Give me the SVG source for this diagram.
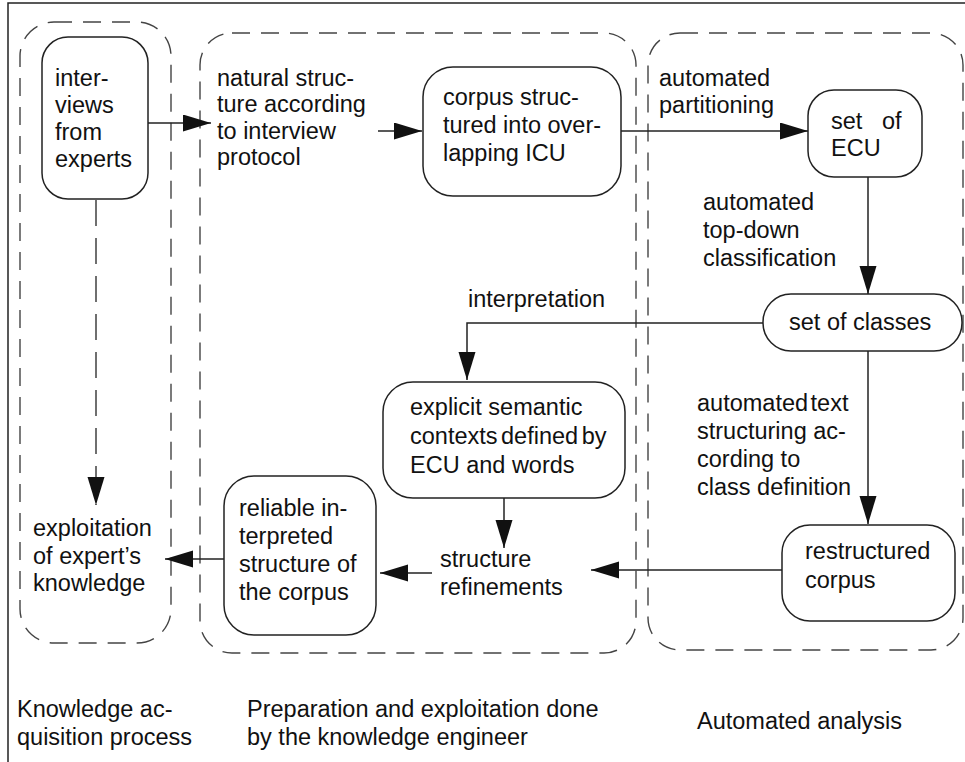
<svg xmlns="http://www.w3.org/2000/svg" width="965" height="762" viewBox="0 0 965 762">
<style>
text{font-family:"Liberation Sans",Arial,sans-serif;font-size:23.5px;fill:#111}
.node{fill:#fff;stroke:#222;stroke-width:1.5}
.zone{fill:none;stroke:#444;stroke-width:1.4;stroke-dasharray:18 11}
.c{fill:none;stroke:#222;stroke-width:1.5}
.d{fill:none;stroke:#333;stroke-width:1.4;stroke-dasharray:26 12}
</style>
<defs>
<marker id="ah" markerUnits="userSpaceOnUse" markerWidth="30" markerHeight="18" refX="28" refY="8.5" orient="auto">
<path d="M0,0 L28,8.5 L0,17 Z" fill="#111"/>
</marker>
</defs>
<rect width="965" height="762" fill="#fff"/>
<path d="M8,762 V3 H965" fill="none" stroke="#222" stroke-width="1.5"/>
<g id="zones">
<rect class="zone" x="20" y="22" width="151" height="621" rx="34"/>
<rect class="zone" x="200" y="33" width="436" height="620" rx="32"/>
<rect class="zone" x="648" y="33" width="315" height="617" rx="32"/>
</g>
<g id="connectors">
<path class="c" d="M148,123 H211" marker-end="url(#ah)"/>
<path class="c" d="M378,131 H422" marker-end="url(#ah)"/>
<path class="c" d="M621,131 H808" marker-end="url(#ah)"/>
<path class="c" d="M868,177 V294" marker-end="url(#ah)"/>
<path class="c" d="M763,323 H467 V380" marker-end="url(#ah)"/>
<path class="c" d="M868,351 V524" marker-end="url(#ah)"/>
<path class="c" d="M504,498 V548" marker-end="url(#ah)"/>
<path class="c" d="M782,570 H591" marker-end="url(#ah)"/>
<path class="c" d="M432,573 H380" marker-end="url(#ah)"/>
<path class="c" d="M224,559 H165" marker-end="url(#ah)"/>
<path class="d" d="M96,200 V505" marker-end="url(#ah)"/>
</g>
<g id="n-interviews">
<rect class="node" x="42" y="37" width="106" height="162" rx="26"/>
<text x="55" y="86">inter-</text>
<text x="55" y="113">views</text>
<text x="55" y="140">from</text>
<text x="55" y="167">experts</text>
</g>
<g id="n-natural">
<text x="217" y="86">natural struc-</text>
<text x="217" y="112">ture according</text>
<text x="217" y="139">to interview</text>
<text x="217" y="165">protocol</text>
</g>
<g id="n-corpus">
<rect class="node" x="423" y="67" width="198" height="129" rx="30"/>
<text x="443" y="105">corpus struc-</text>
<text x="443" y="133">tured into over-</text>
<text x="443" y="161">lapping ICU</text>
</g>
<g id="n-ecu">
<rect class="node" x="808" y="90" width="114" height="87" rx="26"/>
<text x="831" y="129" word-spacing="13">set of</text>
<text x="831" y="156">ECU</text>
</g>
<g id="n-classes">
<rect class="node" x="763" y="294" width="199" height="57" rx="28"/>
<text x="789" y="330">set of classes</text>
</g>
<g id="n-explicit">
<rect class="node" x="383" y="382" width="242" height="116" rx="30"/>
<text x="410" y="415">explicit semantic</text>
<text x="410" y="444" word-spacing="-3">contexts defined by</text>
<text x="410" y="473">ECU and words</text>
</g>
<g id="n-refine">
<text x="440" y="567">structure</text>
<text x="440" y="595">refinements</text>
</g>
<g id="n-restructured">
<rect class="node" x="782" y="525" width="173" height="96" rx="28"/>
<text x="805" y="559">restructured</text>
<text x="805" y="588">corpus</text>
</g>
<g id="n-reliable">
<rect class="node" x="224" y="476" width="152" height="159" rx="30"/>
<text x="239" y="516">reliable in-</text>
<text x="239" y="544">terpreted</text>
<text x="239" y="572">structure of</text>
<text x="239" y="600">the corpus</text>
</g>
<g id="n-exploit">
<text x="33" y="536">exploitation</text>
<text x="33" y="564">of expert’s</text>
<text x="33" y="591">knowledge</text>
</g>
<g id="labels">
<text x="659" y="86">automated</text>
<text x="659" y="113">partitioning</text>
<text x="703" y="210">automated</text>
<text x="703" y="238">top-down</text>
<text x="703" y="266">classification</text>
<text x="468" y="307">interpretation</text>
<text x="697" y="411" word-spacing="-4">automated text</text>
<text x="697" y="439">structuring ac-</text>
<text x="697" y="467">cording to</text>
<text x="697" y="495">class definition</text>
<text x="17" y="717">Knowledge ac-</text>
<text x="17" y="745">quisition process</text>
<text x="247" y="717">Preparation and exploitation done</text>
<text x="247" y="745">by the knowledge engineer</text>
<text x="697" y="729">Automated analysis</text>
</g>
</svg>
